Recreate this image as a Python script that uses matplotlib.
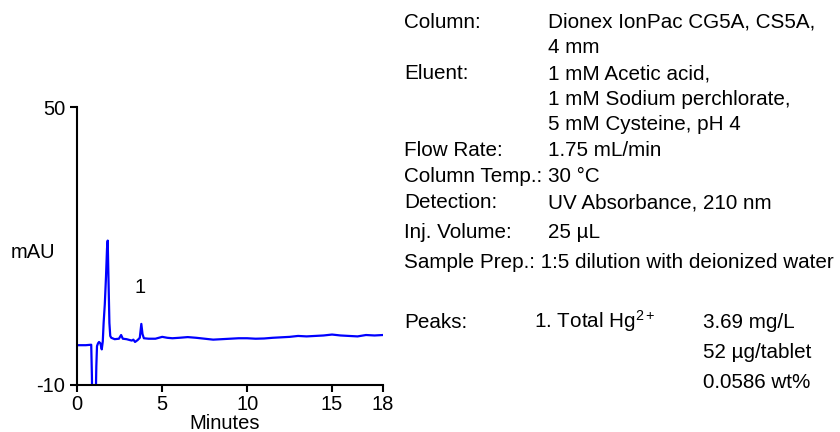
import matplotlib
matplotlib.use("Agg")
import matplotlib.pyplot as plt

plt.rcParams['font.family'] = ['Liberation Sans', 'DejaVu Sans']
plt.rcParams['mathtext.fontset'] = 'custom'
plt.rcParams['mathtext.rm'] = 'Liberation Sans'
plt.rcParams['mathtext.it'] = 'Liberation Sans:italic'

# Chromatogram trace (minutes, mAU)
time_min = [0.0, 0.5, 0.82, 0.86, 0.88, 1.08, 1.12, 1.16, 1.22, 1.28, 1.36, 1.44, 1.50,
            1.55, 1.62, 1.69, 1.75, 1.79, 1.83, 1.89, 1.94, 2.0, 2.2, 2.45, 2.58, 2.68,
            2.9, 3.1, 3.21, 3.3, 3.4, 3.55, 3.68, 3.77, 3.84, 3.92, 4.2, 4.6, 5.0, 5.3,
            5.6, 6.0, 6.5, 7.0, 7.5, 8.0, 8.5, 9.0, 9.5, 10.0, 10.5, 11.0, 11.5, 12.0,
            12.5, 13.0, 13.5, 14.0, 14.5, 15.0, 15.5, 16.0, 16.5, 17.0, 17.5, 18.0]
signal_mau = [-1.4, -1.4, -1.3, -8.0, -14.0, -14.0, -6.0, -1.6, -1.0, -0.7, -1.0, -2.3, -0.6,
              3.4, 7.5, 13.4, 19.5, 21.2, 14.0, 3.4, 0.6, 0.2, -0.1, 0.0, 0.8, 0.0,
              -0.1, -0.3, -0.4, -0.2, -0.7, -0.3, 0.2, 3.2, 1.0, 0.1, 0.0, 0.0, 0.4, 0.2,
              0.1, 0.2, 0.35, 0.2, 0.0, -0.2, -0.1, 0.0, 0.1, 0.1, 0.0, 0.05, 0.2, 0.3,
              0.4, 0.6, 0.5, 0.6, 0.7, 0.9, 0.7, 0.6, 0.5, 0.8, 0.7, 0.8]

x_ticks = [0, 5, 10, 15, 18]
y_ticks = [-10, 50]
peak_label = "1"
peak_label_pos = (3.7, 11.0)

info_labels = ["Column:", "", "Eluent:", "", "", "Flow Rate:", "Column Temp.:",
               "Detection:", "Inj. Volume:"]
info_values = ["Dionex IonPac CG5A, CS5A,", "4 mm", "1 mM Acetic acid,",
               "1 mM Sodium perchlorate,", "5 mM Cysteine, pH 4", "1.75 mL/min",
               "30 °C", "UV Absorbance, 210 nm", "25 µL"]
sample_prep = "Sample Prep.: 1:5 dilution with deionized water"
peaks_title = "Peaks:"
peak_name = "1. Total Hg$^{2+}$"
peak_amounts = ["3.69 mg/L", "52 µg/tablet", "0.0586 wt%"]

W, H = 840, 432
fig = plt.figure(figsize=(W / 100, H / 100), dpi=100)

def fx(px):
    return px / W

def fy(py):
    return 1 - py / H

fs = 14.85
tfs = 14.5

ax = fig.add_axes([fx(77.3), fy(385), fx(383) - fx(77.3), fy(107.3) - fy(385)])
ax.plot(time_min, signal_mau, color='#0000FF', lw=1.6)
ax.set_xlim(0, 18)
ax.set_ylim(-10, 50)
ax.set_xticks(x_ticks)
ax.set_yticks(y_ticks)
ax.set_xticklabels([str(t) for t in x_ticks])
ax.set_yticklabels([str(t) for t in y_ticks])
for s in ['top', 'right']:
    ax.spines[s].set_visible(False)
for s in ['left', 'bottom']:
    ax.spines[s].set_linewidth(1.5)
ax.tick_params(direction='out', length=5, width=1.5, labelsize=tfs)
ax.tick_params(axis='y', pad=3.5)
ax.tick_params(axis='x', pad=2)
ax.text(*peak_label_pos, peak_label, fontsize=tfs, ha='center', va='center')
fig.text(fx(225), fy(423.5), "Minutes", fontsize=tfs, ha='center', va='center')
fig.text(fx(33), fy(252), "mAU", fontsize=tfs, ha='center', va='center')

label_x = fx(404)
value_x = fx(548.5)
baselines = [28, 53, 79, 104.8, 129.8, 155.8, 182.2, 208.2, 237.5]
for lab, val, b in zip(info_labels, info_values, baselines):
    if lab:
        fig.text(label_x, fy(b), lab, fontsize=fs, ha='left', va='baseline')
    fig.text(value_x, fy(b), val, fontsize=fs, ha='left', va='baseline')
fig.text(label_x, fy(268.3), sample_prep, fontsize=fs, ha='left', va='baseline')

fig.text(label_x, fy(328.2), peaks_title, fontsize=fs, ha='left', va='baseline')
fig.text(fx(534), fy(328.2), peak_name, fontsize=fs, ha='left', va='baseline')
for amt, b in zip(peak_amounts, [328.2, 358.2, 387.5]):
    fig.text(fx(703), fy(b), amt, fontsize=fs, ha='left', va='baseline')

fig.savefig("out.png", dpi=100)
